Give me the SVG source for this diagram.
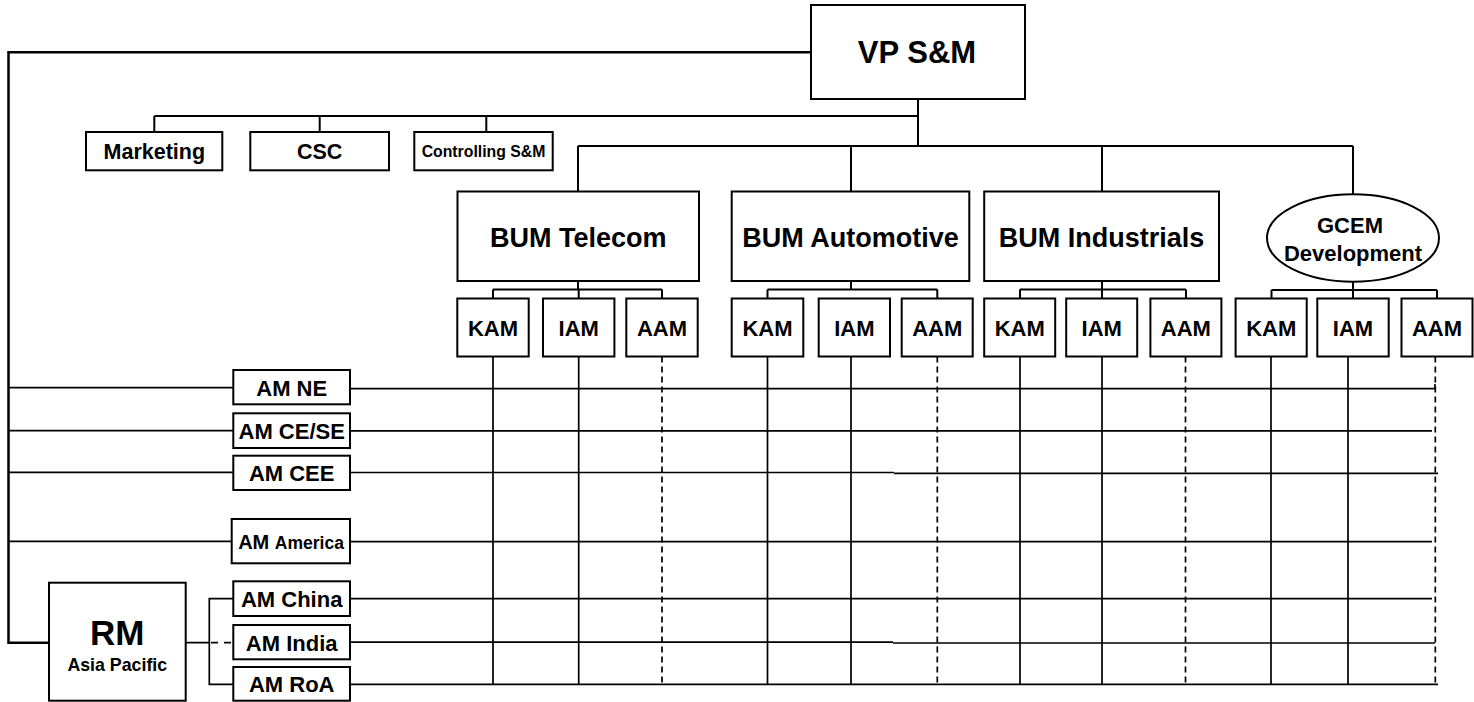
<svg xmlns="http://www.w3.org/2000/svg" width="1474" height="702" viewBox="0 0 1474 702">
<style>
  .box{fill:#fff;stroke:#000;stroke-width:2}
  .t{font-family:"Liberation Sans",Arial,sans-serif;font-weight:bold;fill:#000;text-anchor:middle}
  .c{fill:none;stroke:#000;stroke-width:2}
  .g{fill:none;stroke:#000;stroke-width:1.7}
  .d{fill:none;stroke:#000;stroke-width:1.7;stroke-dasharray:6,4}
</style>
<rect width="1474" height="702" fill="#fff"/>
<g id="connectors">
  <path class="c" d="M811,52.3 H8.5 V642.7 H49" style="stroke-width:2.5"/>
  <path class="c" d="M918,99 V146"/>
  <path class="c" d="M154.3,116 H918"/>
  <path class="c" d="M154.3,116 V132 M319.7,116 V132 M486.3,116 V132"/>
  <path class="c" d="M578,146 H1353"/>
  <path class="c" d="M578,146 V191.5 M851,146 V191.5 M1102,146 V191.5 M1353,146 V194.5"/>
  <path class="c" d="M578,281 V289.5 M493,289.5 H662 M493,289.5 V298.5 M578.7,289.5 V298.5 M662,289.5 V298.5"/>
  <path class="c" d="M851,281 V289.5 M767.5,289.5 H937.3 M767.5,289.5 V298.5 M937.3,289.5 V298.5"/>
  <path class="c" d="M1102,281 V289.5 M1020,289.5 H1186 M1020,289.5 V298.5 M1102,289.5 V298.5 M1186,289.5 V298.5"/>
  <path class="c" d="M1353,281.7 V290 M1271.5,290 H1437 M1271.5,290 V298.5 M1353,290 V298.5 M1437,290 V298.5"/>
  <path class="g" d="M8.5,387.7 H233.3 M8.5,430.7 H233.3 M8.5,472.3 H233.3 M8.5,541.3 H231.7"/>
  <path class="g" d="M185.7,642.7 H209.3 M233.3,598.7 H209.3 V684.3 H233.3"/>
  <path class="d" d="M211,642.7 H233.3" style="stroke-dasharray:7,6"/>
  <path class="g" d="M350,388.7 H1435 V384"/>
  <path class="g" d="M350,430.8 H1432"/>
  <path class="g" d="M350,472.5 H894 M894,473.3 H1438"/>
  <path class="g" d="M350,541.7 H1432"/>
  <path class="g" d="M350,598.7 H1432"/>
  <path class="g" d="M350,642.2 H893 M893,643 H1435"/>
  <path class="g" d="M350,684.3 H1438"/>
  <path class="g" d="M493,356.5 V684.3 M578.7,356.5 V684.3 M767.5,356.5 V684.3 M851,356.5 V684.3 M1020,356.5 V684.3 M1102,356.5 V684.3 M1271,356.5 V684.3 M1348,356.5 V684.3"/>
  <path class="d" d="M662,356.5 V684.3 M937.3,356.5 V684.3 M1185.5,356.5 V684.3 M1435.3,356.5 V684.3"/>
</g>
<g id="vp-sm"><rect class="box" x="811" y="5" width="214" height="94"/><text class="t" x="917" y="63.3" font-size="31">VP S&amp;M</text></g>
<g id="marketing"><rect class="box" x="86" y="132" width="136.3" height="38.3"/><text class="t" x="154.3" y="159" font-size="21.5">Marketing</text></g>
<g id="csc"><rect class="box" x="250.3" y="132" width="138.7" height="38.3"/><text class="t" x="319.7" y="159" font-size="21.5">CSC</text></g>
<g id="controlling"><rect class="box" x="414.3" y="132" width="138.4" height="38.3"/><text class="t" x="483.5" y="157.3" font-size="15.8">Controlling S&amp;M</text></g>
<g id="bum-telecom"><rect class="box" x="457.5" y="191.5" width="241.5" height="89.5"/><text class="t" x="578.2" y="246.7" font-size="27">BUM Telecom</text></g>
<g id="bum-automotive"><rect class="box" x="731.7" y="191.5" width="237.6" height="89.5"/><text class="t" x="850.5" y="246.7" font-size="27">BUM Automotive</text></g>
<g id="bum-industrials"><rect class="box" x="984.2" y="191.5" width="234.8" height="89.5"/><text class="t" x="1101.5" y="246.7" font-size="27">BUM Industrials</text></g>
<g id="gcem"><ellipse class="box" cx="1353" cy="238" rx="86" ry="43.7"/><text class="t" x="1350" y="232.7" font-size="22">GCEM</text><text class="t" x="1353" y="261" font-size="22">Development</text></g>
<g id="tel-kam"><rect class="box" x="457.3" y="298.5" width="71.4" height="58"/><text class="t" x="493" y="336" font-size="22">KAM</text></g>
<g id="tel-iam"><rect class="box" x="543" y="298.5" width="71.4" height="58"/><text class="t" x="578.7" y="336" font-size="22">IAM</text></g>
<g id="tel-aam"><rect class="box" x="626.3" y="298.5" width="71.4" height="58"/><text class="t" x="662" y="336" font-size="22">AAM</text></g>
<g id="aut-kam"><rect class="box" x="731.7" y="298.5" width="71.6" height="58"/><text class="t" x="767.5" y="336" font-size="22">KAM</text></g>
<g id="aut-iam"><rect class="box" x="818.7" y="298.5" width="71.3" height="58"/><text class="t" x="854.3" y="336" font-size="22">IAM</text></g>
<g id="aut-aam"><rect class="box" x="901.7" y="298.5" width="71" height="58"/><text class="t" x="937.2" y="336" font-size="22">AAM</text></g>
<g id="ind-kam"><rect class="box" x="984.2" y="298.5" width="71" height="58"/><text class="t" x="1019.7" y="336" font-size="22">KAM</text></g>
<g id="ind-iam"><rect class="box" x="1066.2" y="298.5" width="71" height="58"/><text class="t" x="1101.7" y="336" font-size="22">IAM</text></g>
<g id="ind-aam"><rect class="box" x="1150.4" y="298.5" width="71" height="58"/><text class="t" x="1185.9" y="336" font-size="22">AAM</text></g>
<g id="gc-kam"><rect class="box" x="1235.6" y="298.5" width="71.1" height="58"/><text class="t" x="1271.2" y="336" font-size="22">KAM</text></g>
<g id="gc-iam"><rect class="box" x="1317.3" y="298.5" width="71.4" height="58"/><text class="t" x="1353" y="336" font-size="22">IAM</text></g>
<g id="gc-aam"><rect class="box" x="1401.5" y="298.5" width="71" height="58"/><text class="t" x="1437" y="336" font-size="22">AAM</text></g>
<g id="am-ne"><rect class="box" x="233.3" y="370" width="116.7" height="34.3"/><text class="t" x="291.7" y="395.5" font-size="22">AM NE</text></g>
<g id="am-cese"><rect class="box" x="233.3" y="413.3" width="116.7" height="34.7"/><text class="t" x="291.7" y="438.7" font-size="22">AM CE/SE</text></g>
<g id="am-cee"><rect class="box" x="233.3" y="455.7" width="116.7" height="34.3"/><text class="t" x="291.7" y="481" font-size="22">AM CEE</text></g>
<g id="am-america"><rect class="box" x="231.7" y="519" width="118.3" height="44.3"/><text class="t" x="291" y="549"><tspan font-size="20">AM </tspan><tspan font-size="17.5">America</tspan></text></g>
<g id="am-china"><rect class="box" x="233.3" y="581.3" width="116.7" height="34.7"/><text class="t" x="291.7" y="607" font-size="22">AM China</text></g>
<g id="am-india"><rect class="box" x="233.3" y="625" width="116.7" height="34.3"/><text class="t" x="291.7" y="650.5" font-size="22">AM India</text></g>
<g id="am-roa"><rect class="box" x="233.3" y="667" width="116.7" height="33.7"/><text class="t" x="291.7" y="692.3" font-size="22">AM RoA</text></g>
<g id="rm-asia"><rect class="box" x="49" y="582.7" width="136.7" height="118"/><text class="t" x="117.3" y="644.7" font-size="35">RM</text><text class="t" x="117.3" y="670.7" font-size="17.8">Asia Pacific</text></g>
</svg>
